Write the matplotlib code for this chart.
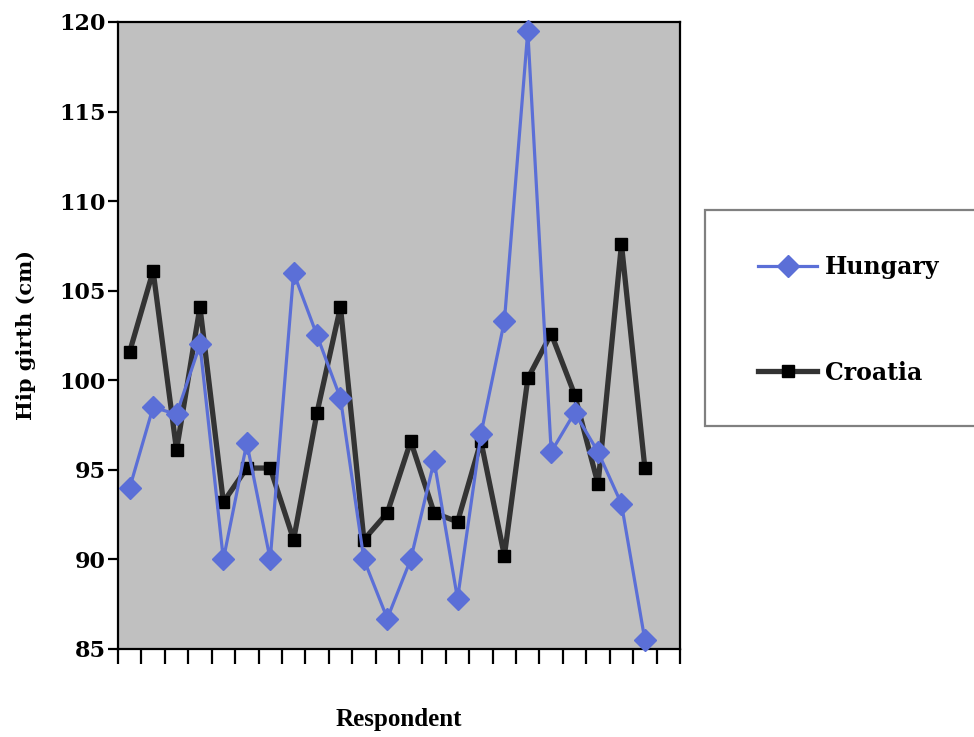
import matplotlib
matplotlib.use("Agg")
import matplotlib.pyplot as plt
from matplotlib.patches import Rectangle
import numpy as np

respondents = list(range(1, 24))
hungary = [94.0, 98.5, 98.1, 102.0, 90.0, 96.5, 90.0, 106.0, 102.5, 99.0, 90.0, 86.7,
           90.0, 95.5, 87.8, 97.0, 103.3, 119.5, 96.0, 98.2, 96.0, 93.1, 85.5]
croatia = [101.6, 106.1, 96.1, 104.1, 93.2, 95.1, 95.1, 91.1, 98.2, 104.1, 91.1, 92.6,
           96.6, 92.6, 92.1, 96.6, 90.2, 100.1, 102.6, 99.2, 94.2, 107.6, 95.1]
n_slots = 24
yticks = [85, 90, 95, 100, 105, 110, 115, 120]

WIDE = ['DejaVu Serif']
TIMES = ['Liberation Serif', 'DejaVu Serif']
plt.rcParams['font.family'] = TIMES

fig = plt.figure(figsize=(9.74, 7.37), dpi=100)
ax = fig.add_axes([118/974, 1-649/737, (680-118)/974, (649-22)/737])
ax.set_facecolor('#c0c0c0')

x = np.arange(len(respondents)) + 0.5
lh, = ax.plot(x, hungary, color='#5b6fd7', lw=2.3, marker='D', markersize=11,
              markerfacecolor='#5b6fd7', markeredgecolor='#5b6fd7', clip_on=False, zorder=3,
              label='Hungary')
lc, = ax.plot(x, croatia, color='#333333', lw=3.8, marker='s', markersize=9,
              markerfacecolor='black', markeredgecolor='black', clip_on=False, zorder=2,
              label='Croatia')

ax.set_xlim(0, n_slots)
ax.set_ylim(85, 120)
ax.set_xticks(range(n_slots + 1))
ax.set_xticklabels([])
ax.set_yticks(yticks)
ax.set_yticklabels([str(t) for t in yticks], fontsize=16, fontweight='bold', family=WIDE)
ax.tick_params(axis='x', direction='out', length=11, width=1.6, color='black')
ax.tick_params(axis='y', direction='out', length=7, width=1.6, color='black', pad=2)
for s in ax.spines.values():
    s.set_linewidth(1.6)
    s.set_color('black')

ax.set_ylabel('Hip girth (cm)', fontsize=15, fontweight='bold', family=WIDE, labelpad=16.5)
ax.set_xlabel('Respondent', fontsize=18, fontweight='bold', family=TIMES, labelpad=28)

fig.patches.append(Rectangle((705/974, 1-426/737), 300/974, (426-210)/737,
                             transform=fig.transFigure, facecolor='white',
                             edgecolor='#808080', lw=1.6, zorder=0))
leg = fig.legend(handles=[lh, lc], loc='center left', bbox_to_anchor=(758/974, 1-320/737),
                 frameon=False, borderpad=0, borderaxespad=0, handlelength=2.5,
                 handletextpad=0.35, labelspacing=3.45,
                 prop={'family': WIDE, 'weight': 'bold', 'size': 17})

fig.savefig('out.png', dpi=100)
